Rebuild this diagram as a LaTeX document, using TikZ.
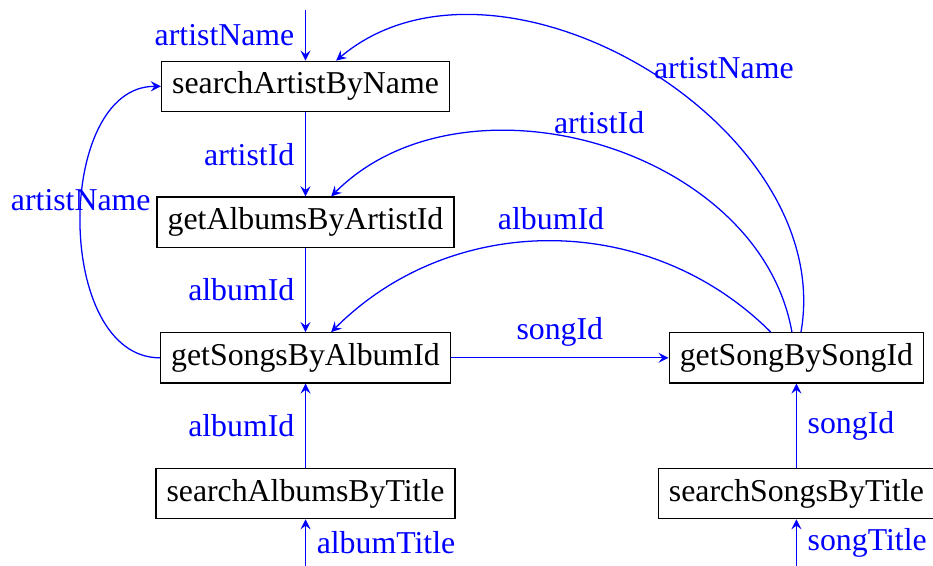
\documentclass[tikz,border=0pt]{standalone}
\usepackage{fontspec}
\setmainfont{Liberation Serif}
\begin{document}
\begin{tikzpicture}
      \useasboundingbox (0,0) rectangle (10.31,6.254);

      \begin{scope}[every node/.style={rectangle,draw}]
        \node (artist)  at (3.376,5.3) {searchArtistByName};
        \node (albums)  at (3.376,3.8) {getAlbumsByArtistId};
        \node (songs)   at (3.376,2.3) {getSongsByAlbumId};
        \node (salbums) at (3.376,0.8) {searchAlbumsByTitle};
        \node (song)    at (8.801,2.3) {getSongBySongId};
        \node (ssongs)  at (8.801,0.8) {searchSongsByTitle};
      \end{scope}

      \coordinate (in1) at (3.376,6.144);
      \coordinate (in2) at (3.376,0);
      \coordinate (in3) at (8.801,0);

      \begin{scope}[every node/.style={text=blue}]

        \begin{scope}[every edge/.style={draw=blue,-stealth}]
          \path (in1)     edge node[left] {artistName} (artist);
          \path (artist)  edge node[left] {artistId} (albums);
          \path (albums)  edge node[left] {albumId} (songs);
          \path (salbums) edge node[left] {albumId} (songs);
          \path (in2)     edge node[right] {albumTitle} (salbums);
          \path (songs)   edge node[above] {songId} (song);
          \path (ssongs)  edge node[right] {songId} (song);
          \path (in3)     edge node[right] {songTitle} (ssongs);
          \path (songs)   edge[out=180,in=180] node[above] {artistName} (artist);
          \path (song)    edge[out=135,in=45] node[above] {albumId} (songs);
          \path (song)    edge[out=100,in=45] node[above] {artistId} (albums);
          \path (song)    edge[out=80,in=40] node[right] {artistName} (artist);
        \end{scope}
      \end{scope}

    \end{tikzpicture}
\end{document}
